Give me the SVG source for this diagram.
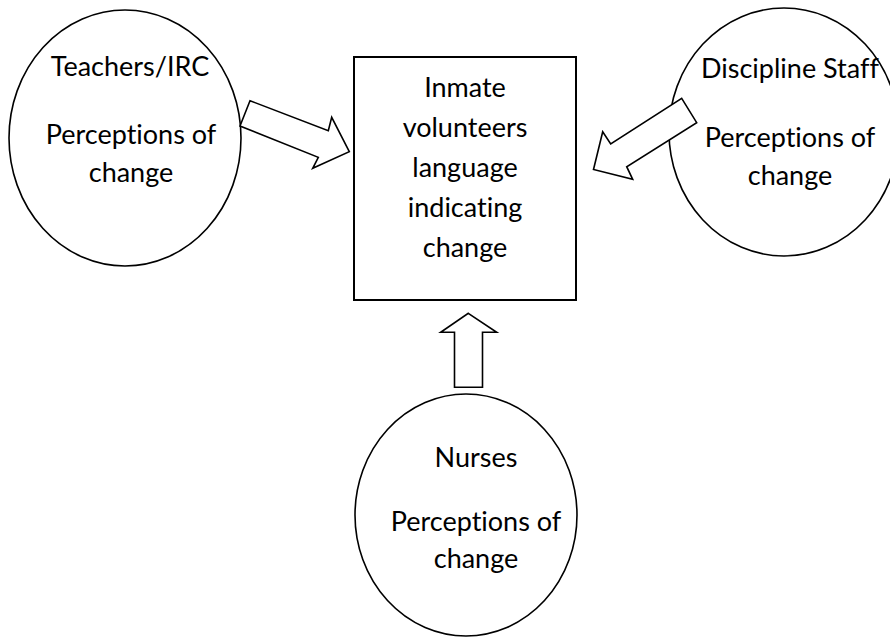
<svg xmlns="http://www.w3.org/2000/svg" width="890" height="638" viewBox="0 0 890 638">
<style>
.shape{fill:#fff;stroke:#000;stroke-width:1.6}
.box{fill:#fff;stroke:#000;stroke-width:2}
.arrow{fill:#fff;stroke:#000;stroke-width:1.6;stroke-linejoin:miter}
text{font-family:Lato,"Liberation Sans",sans-serif;font-size:27px;fill:#000;text-anchor:middle;font-variant-ligatures:none;font-feature-settings:"liga" 0,"clig" 0,"dlig" 0}
</style>
<rect width="890" height="638" fill="#fff"/>
<g id="teachers">
<ellipse class="shape" cx="125" cy="138" rx="116" ry="128"/>
<text x="130" y="76">Teachers/IRC</text>
<text x="131" y="144">Perceptions of</text>
<text x="131" y="182">change</text>
</g>
<g id="discipline">
<ellipse class="shape" cx="784" cy="132" rx="115" ry="124"/>
<text x="790" y="78">Discipline Staff</text>
<text x="790" y="147">Perceptions of</text>
<text x="790" y="185">change</text>
</g>
<g id="nurses">
<ellipse class="shape" cx="466" cy="515" rx="111" ry="121"/>
<text x="476" y="467">Nurses</text>
<text x="476" y="531">Perceptions of</text>
<text x="476" y="568">change</text>
</g>
<g id="inmate">
<rect class="box" x="354" y="57" width="222" height="243"/>
<text x="465" y="97">Inmate</text>
<text x="465" y="137">volunteers</text>
<text x="465" y="177">language</text>
<text x="465" y="217">indicating</text>
<text x="465" y="257">change</text>
</g>
<g id="connectors">
<polygon class="arrow" points="250,100.7 328.3,130.7 331.7,117.3 349.3,151.7 312.7,168.3 318.3,157.3 240,126"/>
<polygon class="arrow" points="681.7,98.3 696.7,122.7 626.7,166.7 632.7,179.3 593.5,169.5 602.7,131.7 610.7,144"/>
<polygon class="arrow" points="468.3,313.3 496.7,332.3 482.5,332.3 482.5,387.3 454.5,387.3 454.5,332.3 440.7,332.3"/>
</g>
</svg>
